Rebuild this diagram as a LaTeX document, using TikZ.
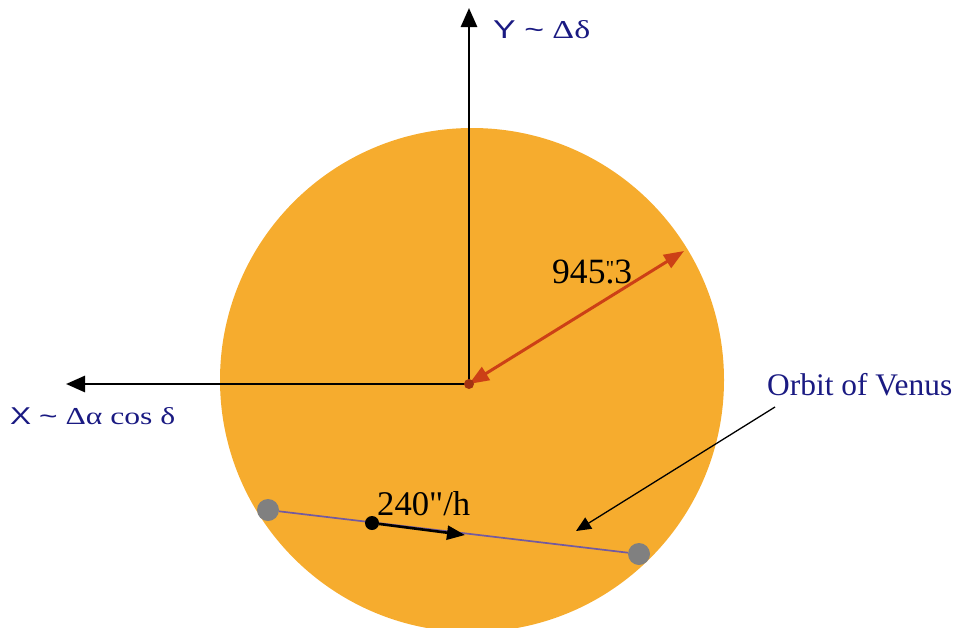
\documentclass[tikz,border=0pt]{standalone}
\usepackage{fontspec}
\setmainfont{Liberation Serif}
\newfontfamily\lsans{Liberation Sans}
\usetikzlibrary{arrows.meta}
\definecolor{sun}{RGB}{246,172,46}
\definecolor{navy}{RGB}{26,26,130}
\definecolor{rarrow}{RGB}{204,64,22}
\definecolor{orbit}{RGB}{115,90,160}
\definecolor{dotgrey}{RGB}{128,128,128}
\tikzset{
  axis/.style={line width=2.8pt,-{Triangle[length=19pt,width=16pt]}},
  lbl/.style={text=navy,inner sep=0pt,anchor=base west},
  blk/.style={inner sep=0pt,anchor=base west},
  radarrow/.style={rarrow,line width=3pt,{Triangle[length=20pt,width=15pt]}-{Triangle[length=20pt,width=15pt]}},
  pointer/.style={line width=1.3pt,-{Triangle[length=15pt,width=13pt]}},
  gdot/.style={circle,fill=dotgrey,minimum size=22pt,inner sep=0pt},
}
\begin{document}
\begin{tikzpicture}[x=1pt,y=-1pt]
\useasboundingbox (0,0) rectangle (956,627);
\begin{scope}
\clip (0,0) rectangle (956,627);
\fill[sun] (472,380) circle[radius=252];
\end{scope}
\coordinate (O) at (469,384);
\coordinate (Ytop) at (469,8);
\coordinate (Xend) at (66,384);
\coordinate (R) at (684,251);
\draw[axis] (O) -- (Ytop);
\draw[axis] (O) -- (Xend);
\node[lbl] (ylab) at (493,38) {\resizebox{97pt}{18pt}{{\lsans Y} {\lsans\textasciitilde} Δδ}};
\node[lbl] (xlab) at (10,424) {\resizebox{165pt}{17pt}{{\lsans X} {\lsans\textasciitilde} Δα cos δ}};
\draw[radarrow] (O) -- (R);
\fill[rarrow!80!black] (O) circle[radius=5];
\node[blk] (rlab) at (552,283) {\resizebox{80pt}{!}{945\rlap{\raisebox{0.22em}{\scalebox{0.6}{\textquotedbl}}}.3}};
\node[gdot] (g1) at (268,510) {};
\node[gdot] (g2) at (639,554) {};
\draw[orbit,line width=1.7pt] (g1) -- (g2);
\node[circle,fill=black,minimum size=14pt,inner sep=0pt] (v) at (372,523) {};
\coordinate (vt) at (465,535);
\draw[line width=2.6pt,-{Triangle[length=18pt,width=14pt]}] (v) -- (vt);
\node[blk] (vlab) at (377,515) {\resizebox{93pt}{!}{240\textquotedbl/h}};
\node[lbl] (olab) at (767,395) {\resizebox{185pt}{!}{Orbit of Venus}};
\coordinate (ostart) at (775,407);
\coordinate (oend) at (576,531);
\draw[pointer] (ostart) -- (oend);
\end{tikzpicture}
\end{document}
